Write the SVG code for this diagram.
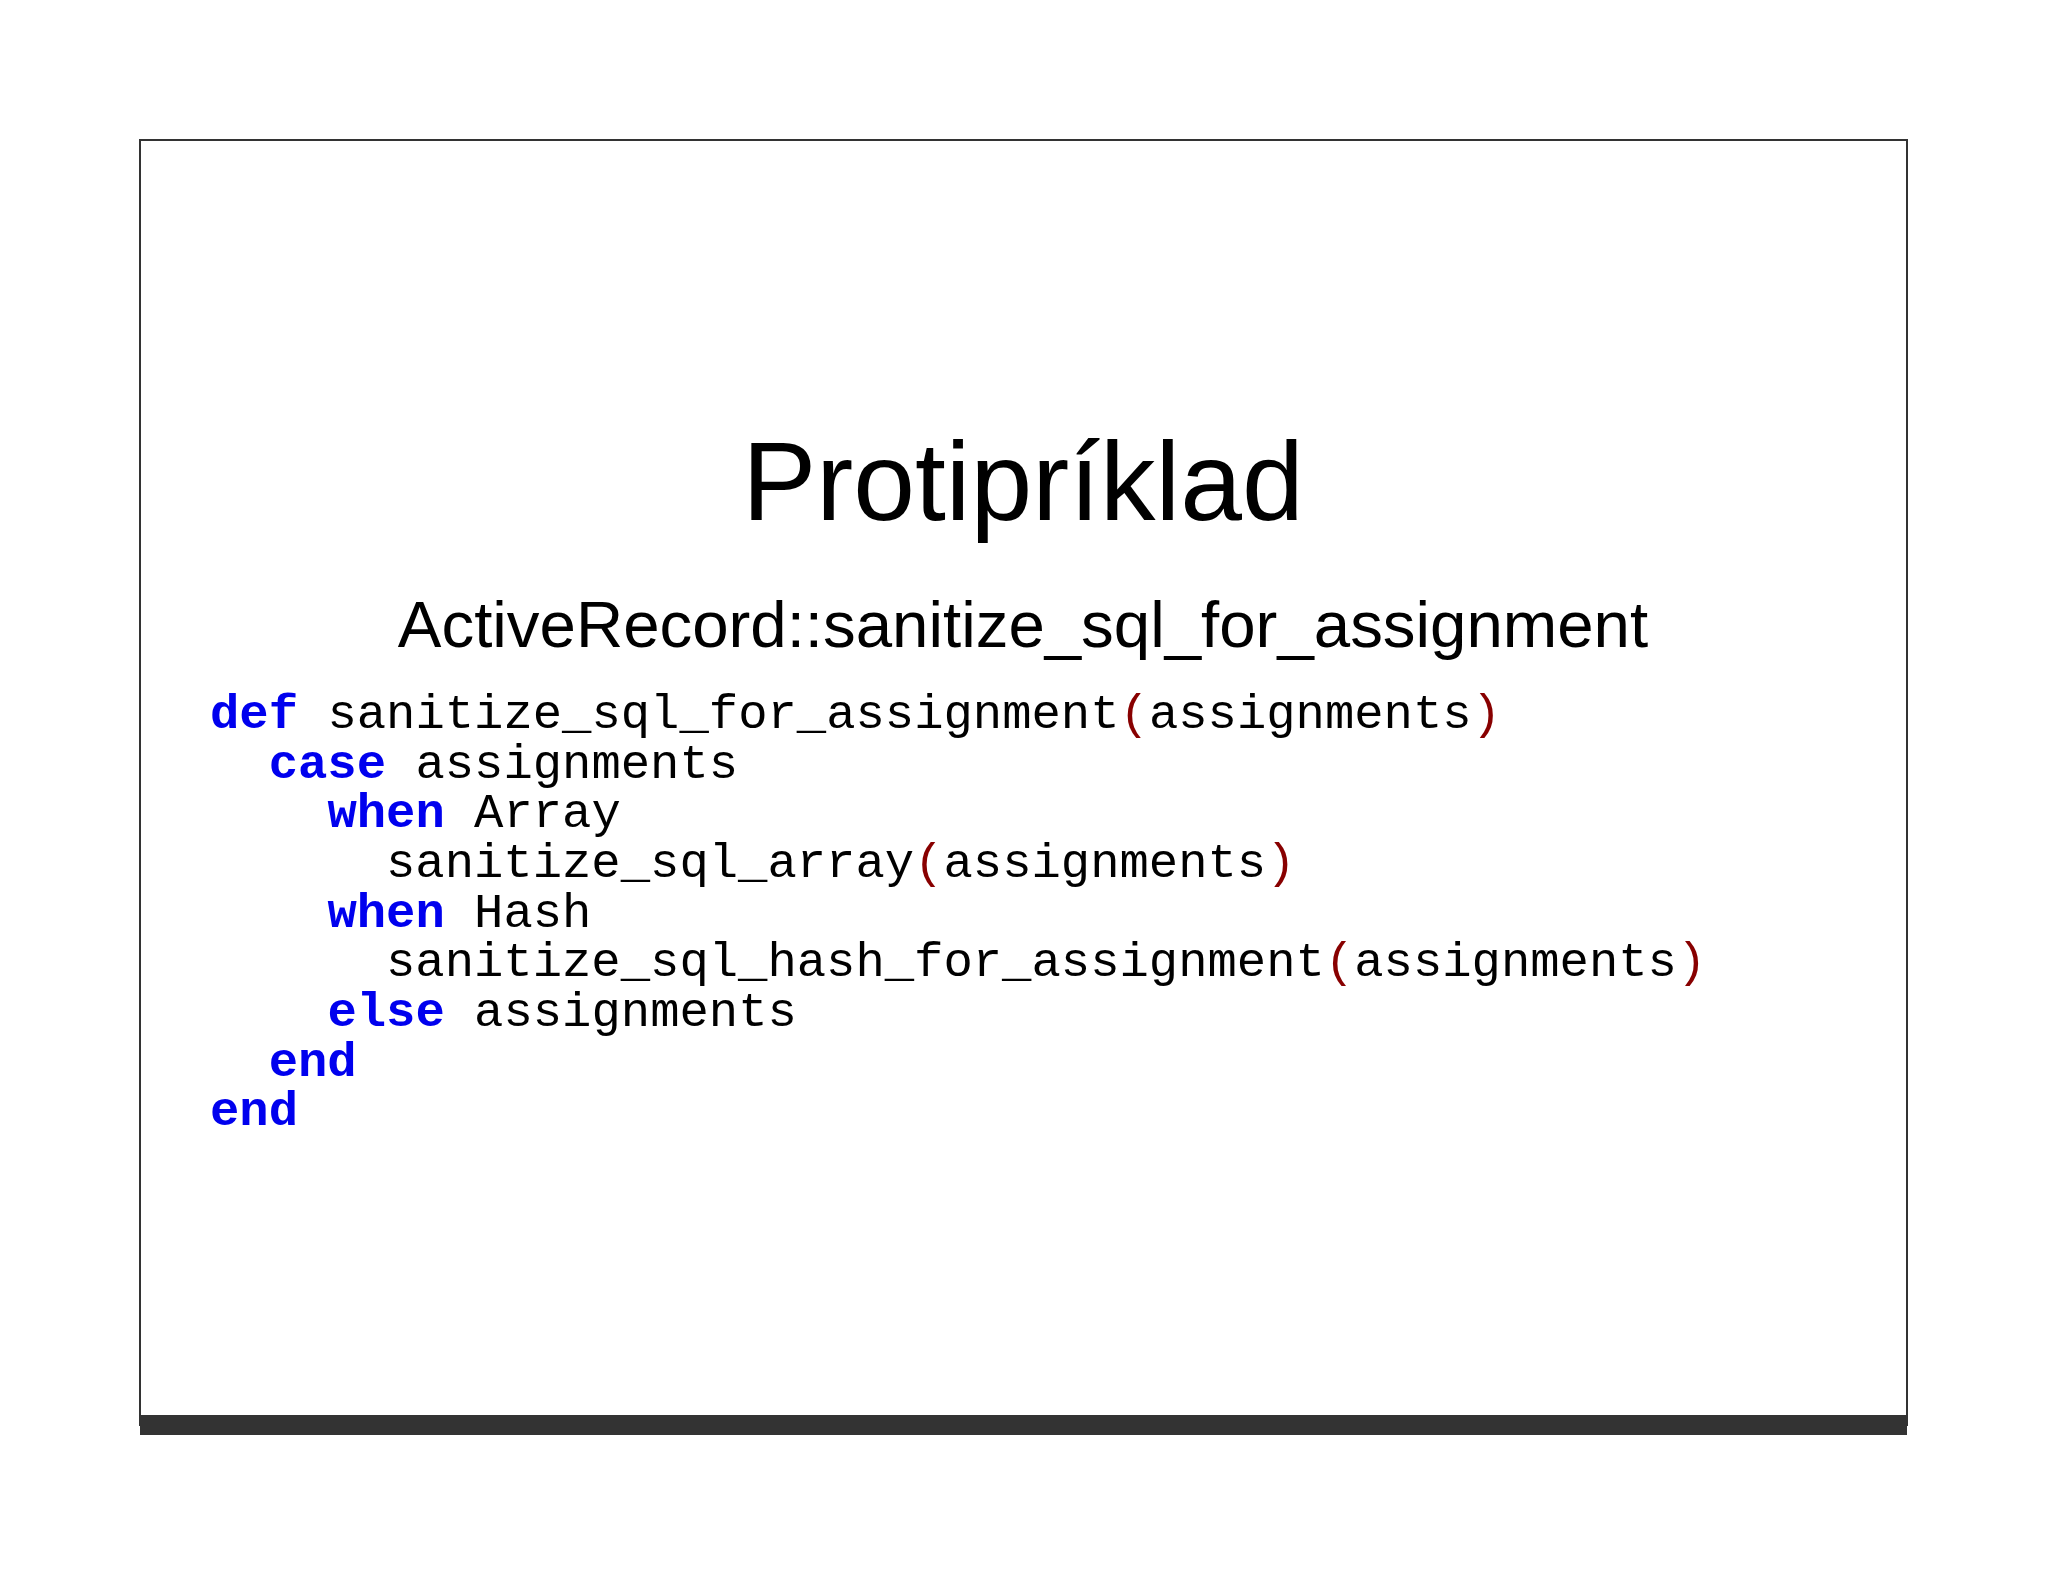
<svg xmlns="http://www.w3.org/2000/svg" width="2048" height="1582" viewBox="0 0 2048 1582">
<style>
.c{font-family:"Liberation Mono",monospace;font-size:48.9px;fill:#000}
.k{fill:#0000ee;font-weight:bold}
.p{fill:#880000}
</style>
<rect width="2048" height="1582" fill="#fff"/>
<g id="frame">
<rect x="140" y="140" width="1767" height="1285" fill="none" stroke="#333" stroke-width="2"/>
<rect x="140" y="1415" width="1767" height="20" fill="#333"/>
</g>
<g id="title"><text x="1023" y="520" text-anchor="middle" font-family="Liberation Sans,sans-serif" font-size="111">Protipríklad</text></g>
<g id="subtitle"><text x="1023" y="647" text-anchor="middle" font-family="Liberation Sans,sans-serif" font-size="65.4">ActiveRecord::sanitize_sql_for_assignment</text></g>
<g id="code" class="c">
<text x="210" y="728"><tspan class="k">def</tspan><tspan x="327.4">sanitize_sql_for_assignment</tspan><tspan class="p">(</tspan>assignments<tspan class="p">)</tspan></text>
<text x="268.7" y="778"><tspan class="k">case</tspan><tspan x="415.4">assignments</tspan></text>
<text x="327.4" y="827"><tspan class="k">when</tspan><tspan x="474.1">Array</tspan></text>
<text x="386" y="877">sanitize_sql_array<tspan class="p">(</tspan>assignments<tspan class="p">)</tspan></text>
<text x="327.4" y="927"><tspan class="k">when</tspan><tspan x="474.1">Hash</tspan></text>
<text x="386" y="976">sanitize_sql_hash_for_assignment<tspan class="p">(</tspan>assignments<tspan class="p">)</tspan></text>
<text x="327.4" y="1026"><tspan class="k">else</tspan><tspan x="474.1">assignments</tspan></text>
<text x="268.7" y="1076" class="k">end</text>
<text x="210" y="1125" class="k">end</text>
</g>
</svg>
